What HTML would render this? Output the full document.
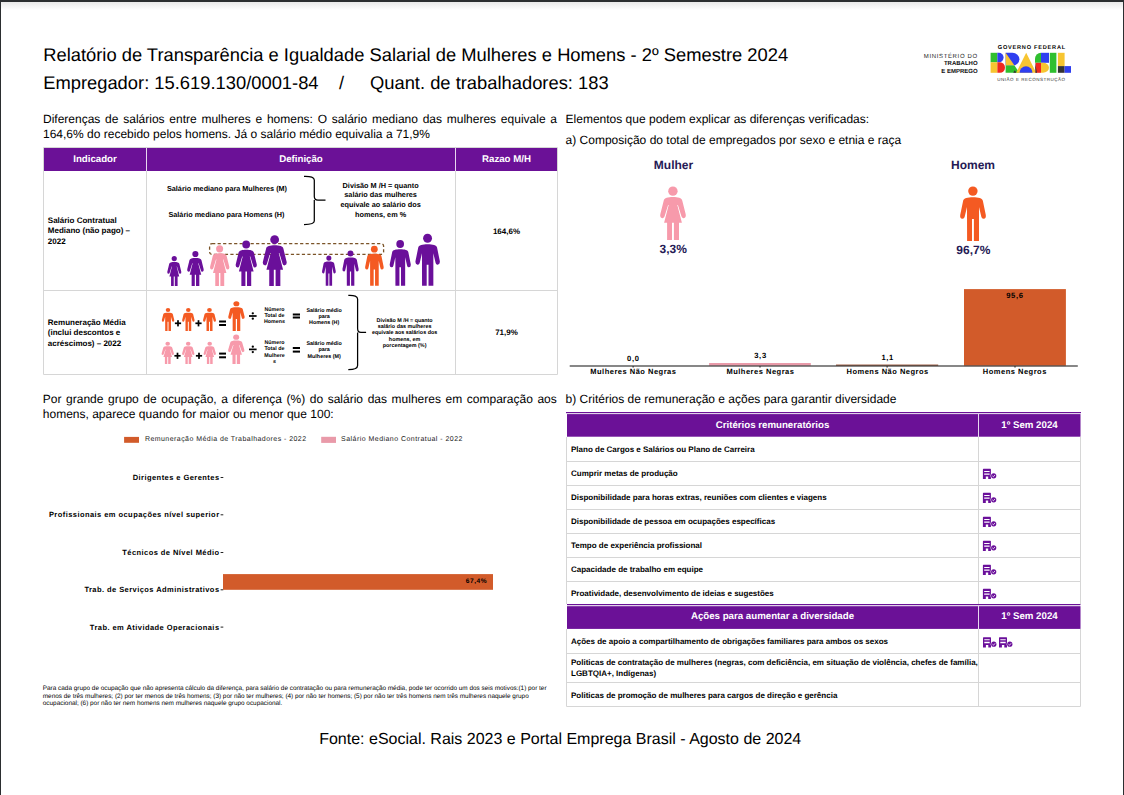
<!DOCTYPE html>
<html><head><meta charset="utf-8"><style>
html,body{margin:0;padding:0;}
body{width:1124px;height:795px;position:relative;overflow:hidden;background:#fff;font-family:"Liberation Sans", sans-serif;}
.t{position:absolute;white-space:nowrap;text-rendering:geometricPrecision;}
.j{text-align:justify;text-align-last:justify;}
#frame-top{position:absolute;left:0;top:0;width:1124px;height:2px;background:#2b2e30;}
#shadow{position:absolute;left:1px;top:2px;width:1122px;height:8px;background:linear-gradient(#e9e9e9,#fff);}
#frame-l{position:absolute;left:0;top:0;width:1px;height:795px;background:#2b2e30;}
#frame-r{position:absolute;left:1123px;top:0;width:1px;height:795px;background:#2b2e30;}
svg{position:absolute;left:0;top:0;}
</style></head><body>
<div id="shadow"></div>
<svg width="1124" height="795" viewBox="0 0 1124 795">
<rect x="44" y="148" width="513.5" height="23" fill="#6b1197"/>
<line x1="43.5" y1="147.5" x2="557.5" y2="147.5" stroke="#d6d6d6" stroke-width="1"/>
<line x1="43.5" y1="290.5" x2="557.5" y2="290.5" stroke="#d6d6d6" stroke-width="1"/>
<line x1="43.5" y1="374.5" x2="557.5" y2="374.5" stroke="#d6d6d6" stroke-width="1"/>
<line x1="43.5" y1="147.5" x2="43.5" y2="374.5" stroke="#d6d6d6" stroke-width="1"/>
<line x1="557.5" y1="147.5" x2="557.5" y2="374.5" stroke="#d6d6d6" stroke-width="1"/>
<line x1="146.5" y1="171" x2="146.5" y2="374.5" stroke="#d6d6d6" stroke-width="1"/>
<line x1="455.5" y1="171" x2="455.5" y2="374.5" stroke="#d6d6d6" stroke-width="1"/>
<line x1="146.5" y1="148" x2="146.5" y2="171" stroke="#e8d8f0" stroke-width="1"/>
<line x1="455.5" y1="148" x2="455.5" y2="171" stroke="#e8d8f0" stroke-width="1"/>
<path d="M304,176.3 Q314.3,176 314.3,180 L314.3,196.5 Q314.3,200.1 318,200.1 L325.5,200.1 M314.3,200.1 Q314.3,200.1 314.3,204 L314.3,221 Q314.3,224.5 304,224.5" fill="none" stroke="#000" stroke-width="1.25"/>
<path d="M348.3,295.4 Q357.6,295 357.6,299 L357.6,328.5 Q357.6,332.4 361,332.4 L366.1,332.4 M357.6,332.4 L357.6,365.5 Q357.6,369.7 348.3,369.7" fill="none" stroke="#000" stroke-width="1.25"/>
<rect x="209.6" y="243.6" width="174" height="10.8" rx="2.5" fill="none" stroke="#7b5428" stroke-width="1.3" stroke-dasharray="3.2,2.3"/>
<g transform="translate(167.20,255.90) scale(0.5504,0.5658)" fill="#6a0f9a"><circle cx="12.8" cy="4.7" r="4.7"/><path d="M3.6,14.3 C4,11.5 8,10.6 12.9,10.6 C17.8,10.6 21.8,11.5 22.2,14.3 L25.6,27.8 Q26.2,31.2 23.6,31.6 Q21.8,31.8 21.3,29.8 L17.8,18.6 L17.2,18.6 L21.8,36.2 L18.9,36.2 L18.9,53.2 L13.8,53.2 L13.8,36.2 L11.9,36.2 L11.9,53.2 L7,53.2 L7,36.2 L4,36.2 L8.6,18.6 L8,18.6 L4.5,29.8 Q4,31.8 2.2,31.6 Q-0.4,31.2 0.2,27.8 Z"/></g>
<g transform="translate(187.10,250.90) scale(0.6473,0.6598)" fill="#6a0f9a"><circle cx="12.8" cy="4.7" r="4.7"/><path d="M3.6,14.3 C4,11.5 8,10.6 12.9,10.6 C17.8,10.6 21.8,11.5 22.2,14.3 L25.6,27.8 Q26.2,31.2 23.6,31.6 Q21.8,31.8 21.3,29.8 L17.8,18.6 L17.2,18.6 L21.8,36.2 L18.9,36.2 L18.9,53.2 L13.8,53.2 L13.8,36.2 L11.9,36.2 L11.9,53.2 L7,53.2 L7,36.2 L4,36.2 L8.6,18.6 L8,18.6 L4.5,29.8 Q4,31.8 2.2,31.6 Q-0.4,31.2 0.2,27.8 Z"/></g>
<g transform="translate(210.00,245.20) scale(0.7519,0.7669)" fill="#f79aab"><circle cx="12.8" cy="4.7" r="4.7"/><path d="M3.6,14.3 C4,11.5 8,10.6 12.9,10.6 C17.8,10.6 21.8,11.5 22.2,14.3 L25.6,27.8 Q26.2,31.2 23.6,31.6 Q21.8,31.8 21.3,29.8 L17.8,18.6 L17.2,18.6 L21.8,36.2 L18.9,36.2 L18.9,53.2 L13.8,53.2 L13.8,36.2 L11.9,36.2 L11.9,53.2 L7,53.2 L7,36.2 L4,36.2 L8.6,18.6 L8,18.6 L4.5,29.8 Q4,31.8 2.2,31.6 Q-0.4,31.2 0.2,27.8 Z"/></g>
<g transform="translate(235.60,240.60) scale(0.8256,0.8534)" fill="#6a0f9a"><circle cx="12.8" cy="4.7" r="4.7"/><path d="M3.6,14.3 C4,11.5 8,10.6 12.9,10.6 C17.8,10.6 21.8,11.5 22.2,14.3 L25.6,27.8 Q26.2,31.2 23.6,31.6 Q21.8,31.8 21.3,29.8 L17.8,18.6 L17.2,18.6 L21.8,36.2 L18.9,36.2 L18.9,53.2 L13.8,53.2 L13.8,36.2 L11.9,36.2 L11.9,53.2 L7,53.2 L7,36.2 L4,36.2 L8.6,18.6 L8,18.6 L4.5,29.8 Q4,31.8 2.2,31.6 Q-0.4,31.2 0.2,27.8 Z"/></g>
<g transform="translate(262.70,235.20) scale(0.9341,0.9549)" fill="#6a0f9a"><circle cx="12.8" cy="4.7" r="4.7"/><path d="M3.6,14.3 C4,11.5 8,10.6 12.9,10.6 C17.8,10.6 21.8,11.5 22.2,14.3 L25.6,27.8 Q26.2,31.2 23.6,31.6 Q21.8,31.8 21.3,29.8 L17.8,18.6 L17.2,18.6 L21.8,36.2 L18.9,36.2 L18.9,53.2 L13.8,53.2 L13.8,36.2 L11.9,36.2 L11.9,53.2 L7,53.2 L7,36.2 L4,36.2 L8.6,18.6 L8,18.6 L4.5,29.8 Q4,31.8 2.2,31.6 Q-0.4,31.2 0.2,27.8 Z"/></g>
<g transform="translate(322.00,255.40) scale(0.5349,0.5580)" fill="#6a0f9a"><circle cx="12.8" cy="4.7" r="4.7"/><path d="M3,14.5 C3.4,11.8 7.5,10.9 12.9,10.9 C18.3,10.9 22.4,11.8 22.8,14.5 L25.7,28.5 Q26.2,32 23.6,32.3 Q21.8,32.5 21.3,30.5 L18.9,20.5 L18.9,54.3 L13.8,54.3 L13.8,32.4 L11.9,32.4 L11.9,54.3 L7,54.3 L6.9,20.5 L4.5,30.5 Q4,32.5 2.2,32.3 Q-0.4,32 0.1,28.5 Z"/></g>
<g transform="translate(342.40,250.40) scale(0.6318,0.6501)" fill="#6a0f9a"><circle cx="12.8" cy="4.7" r="4.7"/><path d="M3,14.5 C3.4,11.8 7.5,10.9 12.9,10.9 C18.3,10.9 22.4,11.8 22.8,14.5 L25.7,28.5 Q26.2,32 23.6,32.3 Q21.8,32.5 21.3,30.5 L18.9,20.5 L18.9,54.3 L13.8,54.3 L13.8,32.4 L11.9,32.4 L11.9,54.3 L7,54.3 L6.9,20.5 L4.5,30.5 Q4,32.5 2.2,32.3 Q-0.4,32 0.1,28.5 Z"/></g>
<g transform="translate(365.10,245.70) scale(0.7209,0.7366)" fill="#f45a22"><circle cx="12.8" cy="4.7" r="4.7"/><path d="M3,14.5 C3.4,11.8 7.5,10.9 12.9,10.9 C18.3,10.9 22.4,11.8 22.8,14.5 L25.7,28.5 Q26.2,32 23.6,32.3 Q21.8,32.5 21.3,30.5 L18.9,20.5 L18.9,54.3 L13.8,54.3 L13.8,32.4 L11.9,32.4 L11.9,54.3 L7,54.3 L6.9,20.5 L4.5,30.5 Q4,32.5 2.2,32.3 Q-0.4,32 0.1,28.5 Z"/></g>
<g transform="translate(389.70,240.10) scale(0.8178,0.8398)" fill="#6a0f9a"><circle cx="12.8" cy="4.7" r="4.7"/><path d="M3,14.5 C3.4,11.8 7.5,10.9 12.9,10.9 C18.3,10.9 22.4,11.8 22.8,14.5 L25.7,28.5 Q26.2,32 23.6,32.3 Q21.8,32.5 21.3,30.5 L18.9,20.5 L18.9,54.3 L13.8,54.3 L13.8,32.4 L11.9,32.4 L11.9,54.3 L7,54.3 L6.9,20.5 L4.5,30.5 Q4,32.5 2.2,32.3 Q-0.4,32 0.1,28.5 Z"/></g>
<g transform="translate(415.40,233.70) scale(0.9496,0.9576)" fill="#6a0f9a"><circle cx="12.8" cy="4.7" r="4.7"/><path d="M3,14.5 C3.4,11.8 7.5,10.9 12.9,10.9 C18.3,10.9 22.4,11.8 22.8,14.5 L25.7,28.5 Q26.2,32 23.6,32.3 Q21.8,32.5 21.3,30.5 L18.9,20.5 L18.9,54.3 L13.8,54.3 L13.8,32.4 L11.9,32.4 L11.9,54.3 L7,54.3 L6.9,20.5 L4.5,30.5 Q4,32.5 2.2,32.3 Q-0.4,32 0.1,28.5 Z"/></g>
<g transform="translate(161.80,308.10) scale(0.4845,0.4199)" fill="#f45a22"><circle cx="12.8" cy="4.7" r="4.7"/><path d="M3,14.5 C3.4,11.8 7.5,10.9 12.9,10.9 C18.3,10.9 22.4,11.8 22.8,14.5 L25.7,28.5 Q26.2,32 23.6,32.3 Q21.8,32.5 21.3,30.5 L18.9,20.5 L18.9,54.3 L13.8,54.3 L13.8,32.4 L11.9,32.4 L11.9,54.3 L7,54.3 L6.9,20.5 L4.5,30.5 Q4,32.5 2.2,32.3 Q-0.4,32 0.1,28.5 Z"/></g>
<g transform="translate(182.10,308.10) scale(0.4845,0.4199)" fill="#f45a22"><circle cx="12.8" cy="4.7" r="4.7"/><path d="M3,14.5 C3.4,11.8 7.5,10.9 12.9,10.9 C18.3,10.9 22.4,11.8 22.8,14.5 L25.7,28.5 Q26.2,32 23.6,32.3 Q21.8,32.5 21.3,30.5 L18.9,20.5 L18.9,54.3 L13.8,54.3 L13.8,32.4 L11.9,32.4 L11.9,54.3 L7,54.3 L6.9,20.5 L4.5,30.5 Q4,32.5 2.2,32.3 Q-0.4,32 0.1,28.5 Z"/></g>
<g transform="translate(203.00,308.10) scale(0.5039,0.4199)" fill="#f45a22"><circle cx="12.8" cy="4.7" r="4.7"/><path d="M3,14.5 C3.4,11.8 7.5,10.9 12.9,10.9 C18.3,10.9 22.4,11.8 22.8,14.5 L25.7,28.5 Q26.2,32 23.6,32.3 Q21.8,32.5 21.3,30.5 L18.9,20.5 L18.9,54.3 L13.8,54.3 L13.8,32.4 L11.9,32.4 L11.9,54.3 L7,54.3 L6.9,20.5 L4.5,30.5 Q4,32.5 2.2,32.3 Q-0.4,32 0.1,28.5 Z"/></g>
<g transform="translate(228.20,301.20) scale(0.6395,0.5470)" fill="#f45a22"><circle cx="12.8" cy="4.7" r="4.7"/><path d="M3,14.5 C3.4,11.8 7.5,10.9 12.9,10.9 C18.3,10.9 22.4,11.8 22.8,14.5 L25.7,28.5 Q26.2,32 23.6,32.3 Q21.8,32.5 21.3,30.5 L18.9,20.5 L18.9,54.3 L13.8,54.3 L13.8,32.4 L11.9,32.4 L11.9,54.3 L7,54.3 L6.9,20.5 L4.5,30.5 Q4,32.5 2.2,32.3 Q-0.4,32 0.1,28.5 Z"/></g>
<g transform="translate(161.50,341.70) scale(0.4845,0.4211)" fill="#f79aab"><circle cx="12.8" cy="4.7" r="4.7"/><path d="M3.6,14.3 C4,11.5 8,10.6 12.9,10.6 C17.8,10.6 21.8,11.5 22.2,14.3 L25.6,27.8 Q26.2,31.2 23.6,31.6 Q21.8,31.8 21.3,29.8 L17.8,18.6 L17.2,18.6 L21.8,36.2 L18.9,36.2 L18.9,53.2 L13.8,53.2 L13.8,36.2 L11.9,36.2 L11.9,53.2 L7,53.2 L7,36.2 L4,36.2 L8.6,18.6 L8,18.6 L4.5,29.8 Q4,31.8 2.2,31.6 Q-0.4,31.2 0.2,27.8 Z"/></g>
<g transform="translate(182.00,341.70) scale(0.4845,0.4211)" fill="#f79aab"><circle cx="12.8" cy="4.7" r="4.7"/><path d="M3.6,14.3 C4,11.5 8,10.6 12.9,10.6 C17.8,10.6 21.8,11.5 22.2,14.3 L25.6,27.8 Q26.2,31.2 23.6,31.6 Q21.8,31.8 21.3,29.8 L17.8,18.6 L17.2,18.6 L21.8,36.2 L18.9,36.2 L18.9,53.2 L13.8,53.2 L13.8,36.2 L11.9,36.2 L11.9,53.2 L7,53.2 L7,36.2 L4,36.2 L8.6,18.6 L8,18.6 L4.5,29.8 Q4,31.8 2.2,31.6 Q-0.4,31.2 0.2,27.8 Z"/></g>
<g transform="translate(203.50,341.70) scale(0.4845,0.4211)" fill="#f79aab"><circle cx="12.8" cy="4.7" r="4.7"/><path d="M3.6,14.3 C4,11.5 8,10.6 12.9,10.6 C17.8,10.6 21.8,11.5 22.2,14.3 L25.6,27.8 Q26.2,31.2 23.6,31.6 Q21.8,31.8 21.3,29.8 L17.8,18.6 L17.2,18.6 L21.8,36.2 L18.9,36.2 L18.9,53.2 L13.8,53.2 L13.8,36.2 L11.9,36.2 L11.9,53.2 L7,53.2 L7,36.2 L4,36.2 L8.6,18.6 L8,18.6 L4.5,29.8 Q4,31.8 2.2,31.6 Q-0.4,31.2 0.2,27.8 Z"/></g>
<g transform="translate(228.00,334.60) scale(0.6395,0.5545)" fill="#f79aab"><circle cx="12.8" cy="4.7" r="4.7"/><path d="M3.6,14.3 C4,11.5 8,10.6 12.9,10.6 C17.8,10.6 21.8,11.5 22.2,14.3 L25.6,27.8 Q26.2,31.2 23.6,31.6 Q21.8,31.8 21.3,29.8 L17.8,18.6 L17.2,18.6 L21.8,36.2 L18.9,36.2 L18.9,53.2 L13.8,53.2 L13.8,36.2 L11.9,36.2 L11.9,53.2 L7,53.2 L7,36.2 L4,36.2 L8.6,18.6 L8,18.6 L4.5,29.8 Q4,31.8 2.2,31.6 Q-0.4,31.2 0.2,27.8 Z"/></g>
<rect x="174.90" y="322.45" width="6.2" height="1.7" fill="#000"/><rect x="177.15" y="320.20" width="1.7" height="6.2" fill="#000"/>
<rect x="195.40" y="322.45" width="6.2" height="1.7" fill="#000"/><rect x="197.65" y="320.20" width="1.7" height="6.2" fill="#000"/>
<rect x="219.1" y="320.5" width="6.900000000000006" height="2" fill="#000"/><rect x="219.1" y="324" width="6.900000000000006" height="2" fill="#000"/>
<rect x="249.0" y="315.15" width="7.6" height="1.7" fill="#000"/><circle cx="252.8" cy="313.3" r="1.15" fill="#000"/><circle cx="252.8" cy="318.7" r="1.15" fill="#000"/>
<rect x="174.40" y="354.95" width="6.2" height="1.7" fill="#000"/><rect x="176.65" y="352.70" width="1.7" height="6.2" fill="#000"/>
<rect x="195.90" y="354.95" width="6.2" height="1.7" fill="#000"/><rect x="198.15" y="352.70" width="1.7" height="6.2" fill="#000"/>
<rect x="219.1" y="352.6" width="6.900000000000006" height="2" fill="#000"/><rect x="219.1" y="356.3" width="6.900000000000006" height="2" fill="#000"/>
<rect x="249.0" y="348.54999999999995" width="7.6" height="1.7" fill="#000"/><circle cx="252.8" cy="346.7" r="1.15" fill="#000"/><circle cx="252.8" cy="352.09999999999997" r="1.15" fill="#000"/>
<rect x="292.8" y="313.5" width="7.199999999999989" height="2" fill="#000"/><rect x="292.8" y="316.5" width="7.199999999999989" height="2" fill="#000"/>
<rect x="292.8" y="347" width="7.199999999999989" height="2" fill="#000"/><rect x="292.8" y="350.6" width="7.199999999999989" height="2" fill="#000"/>
<g transform="translate(660.10,186.40) scale(1.0000,1.0056)" fill="#f79aab"><circle cx="12.8" cy="4.7" r="4.7"/><path d="M3.6,14.3 C4,11.5 8,10.6 12.9,10.6 C17.8,10.6 21.8,11.5 22.2,14.3 L25.6,27.8 Q26.2,31.2 23.6,31.6 Q21.8,31.8 21.3,29.8 L17.8,18.6 L17.2,18.6 L21.8,36.2 L18.9,36.2 L18.9,53.2 L13.8,53.2 L13.8,36.2 L11.9,36.2 L11.9,53.2 L7,53.2 L7,36.2 L4,36.2 L8.6,18.6 L8,18.6 L4.5,29.8 Q4,31.8 2.2,31.6 Q-0.4,31.2 0.2,27.8 Z"/></g>
<g transform="translate(960.10,186.40) scale(1.0000,1.0037)" fill="#f45a22"><circle cx="12.8" cy="4.7" r="4.7"/><path d="M3,14.5 C3.4,11.8 7.5,10.9 12.9,10.9 C18.3,10.9 22.4,11.8 22.8,14.5 L25.7,28.5 Q26.2,32 23.6,32.3 Q21.8,32.5 21.3,30.5 L18.9,20.5 L18.9,54.3 L13.8,54.3 L13.8,32.4 L11.9,32.4 L11.9,54.3 L7,54.3 L6.9,20.5 L4.5,30.5 Q4,32.5 2.2,32.3 Q-0.4,32 0.1,28.5 Z"/></g>
<rect x="709.1" y="363" width="101.7" height="3" fill="#e99aa9"/>
<rect x="836" y="364.6" width="102.2" height="1.4" fill="#8a3a1a"/>
<rect x="964" y="289.1" width="101.9" height="77" fill="#d25b2a"/>
<rect x="569.7" y="365.3" width="508.1" height="1.4" fill="#555"/>
<rect x="632.6" y="366" width="1" height="1.6" fill="#222"/>
<rect x="759.5" y="366" width="1" height="1.6" fill="#222"/>
<rect x="886.6" y="366" width="1" height="1.6" fill="#222"/>
<rect x="1014.5" y="366" width="1" height="1.6" fill="#222"/>
<rect x="124.1" y="436.9" width="14.9" height="5.9" fill="#d25b2a"/>
<rect x="321.2" y="436.8" width="14.8" height="6.1" fill="#e99aa9"/>
<rect x="220.6" y="477.0" width="2.7" height="1" fill="#222"/>
<rect x="220.6" y="514.3" width="2.7" height="1" fill="#222"/>
<rect x="220.6" y="552.0" width="2.7" height="1" fill="#222"/>
<rect x="220.6" y="589.3" width="2.7" height="1" fill="#222"/>
<rect x="220.6" y="626.6" width="2.7" height="1" fill="#222"/>
<rect x="223" y="574.1" width="270" height="15.7" fill="#d25b2a"/>
<rect x="566" y="412" width="515" height="1.2" fill="#6b1197"/>
<rect x="567" y="414.1" width="513.5" height="22.6" fill="#6b1197"/>
<rect x="567" y="604" width="513.5" height="1.2" fill="#6b1197"/>
<rect x="567" y="606.2" width="513.5" height="22.7" fill="#6b1197"/>
<line x1="978.5" y1="414" x2="978.5" y2="437" stroke="#e8d8f0"/>
<line x1="978.5" y1="606" x2="978.5" y2="629" stroke="#e8d8f0"/>
<line x1="566.5" y1="461.5" x2="1080.5" y2="461.5" stroke="#d6d6d6"/>
<line x1="566.5" y1="485.5" x2="1080.5" y2="485.5" stroke="#d6d6d6"/>
<line x1="566.5" y1="509.5" x2="1080.5" y2="509.5" stroke="#d6d6d6"/>
<line x1="566.5" y1="533.5" x2="1080.5" y2="533.5" stroke="#d6d6d6"/>
<line x1="566.5" y1="557.5" x2="1080.5" y2="557.5" stroke="#d6d6d6"/>
<line x1="566.5" y1="581.5" x2="1080.5" y2="581.5" stroke="#d6d6d6"/>
<line x1="566.5" y1="653.5" x2="1080.5" y2="653.5" stroke="#d6d6d6"/>
<line x1="566.5" y1="682.5" x2="1080.5" y2="682.5" stroke="#d6d6d6"/>
<line x1="566.5" y1="706.5" x2="1080.5" y2="706.5" stroke="#d6d6d6"/>
<line x1="566.5" y1="437" x2="566.5" y2="604" stroke="#d6d6d6"/>
<line x1="566.5" y1="629" x2="566.5" y2="706.5" stroke="#d6d6d6"/>
<line x1="978.5" y1="437" x2="978.5" y2="604" stroke="#d6d6d6"/>
<line x1="978.5" y1="629" x2="978.5" y2="706.5" stroke="#d6d6d6"/>
<line x1="1080.5" y1="437" x2="1080.5" y2="604" stroke="#d6d6d6"/>
<line x1="1080.5" y1="629" x2="1080.5" y2="706.5" stroke="#d6d6d6"/>
<g transform="translate(982.9,468.8)" fill="#6a0f9a"><path d="M0.6,0 H7.4 Q8,0 8,0.6 V10.3 H5.3 V7.8 H2.9 V10.3 H0 V0.6 Q0,0 0.6,0 Z M1.3,2.1 V3.1 H6.7 V2.1 Z M1.3,4.6 V6 H6.7 V4.6 Z"/><circle cx="10.8" cy="7" r="3.1" fill="#fff"/><circle cx="10.8" cy="7" r="2.6"/><path d="M9.5,7.1 L10.5,8 L12.1,6.1" stroke="#fff" stroke-width="0.8" fill="none"/></g>
<g transform="translate(982.9,492.8)" fill="#6a0f9a"><path d="M0.6,0 H7.4 Q8,0 8,0.6 V10.3 H5.3 V7.8 H2.9 V10.3 H0 V0.6 Q0,0 0.6,0 Z M1.3,2.1 V3.1 H6.7 V2.1 Z M1.3,4.6 V6 H6.7 V4.6 Z"/><circle cx="10.8" cy="7" r="3.1" fill="#fff"/><circle cx="10.8" cy="7" r="2.6"/><path d="M9.5,7.1 L10.5,8 L12.1,6.1" stroke="#fff" stroke-width="0.8" fill="none"/></g>
<g transform="translate(982.9,516.8)" fill="#6a0f9a"><path d="M0.6,0 H7.4 Q8,0 8,0.6 V10.3 H5.3 V7.8 H2.9 V10.3 H0 V0.6 Q0,0 0.6,0 Z M1.3,2.1 V3.1 H6.7 V2.1 Z M1.3,4.6 V6 H6.7 V4.6 Z"/><circle cx="10.8" cy="7" r="3.1" fill="#fff"/><circle cx="10.8" cy="7" r="2.6"/><path d="M9.5,7.1 L10.5,8 L12.1,6.1" stroke="#fff" stroke-width="0.8" fill="none"/></g>
<g transform="translate(982.9,540.8)" fill="#6a0f9a"><path d="M0.6,0 H7.4 Q8,0 8,0.6 V10.3 H5.3 V7.8 H2.9 V10.3 H0 V0.6 Q0,0 0.6,0 Z M1.3,2.1 V3.1 H6.7 V2.1 Z M1.3,4.6 V6 H6.7 V4.6 Z"/><circle cx="10.8" cy="7" r="3.1" fill="#fff"/><circle cx="10.8" cy="7" r="2.6"/><path d="M9.5,7.1 L10.5,8 L12.1,6.1" stroke="#fff" stroke-width="0.8" fill="none"/></g>
<g transform="translate(982.9,564.8)" fill="#6a0f9a"><path d="M0.6,0 H7.4 Q8,0 8,0.6 V10.3 H5.3 V7.8 H2.9 V10.3 H0 V0.6 Q0,0 0.6,0 Z M1.3,2.1 V3.1 H6.7 V2.1 Z M1.3,4.6 V6 H6.7 V4.6 Z"/><circle cx="10.8" cy="7" r="3.1" fill="#fff"/><circle cx="10.8" cy="7" r="2.6"/><path d="M9.5,7.1 L10.5,8 L12.1,6.1" stroke="#fff" stroke-width="0.8" fill="none"/></g>
<g transform="translate(982.9,588.8)" fill="#6a0f9a"><path d="M0.6,0 H7.4 Q8,0 8,0.6 V10.3 H5.3 V7.8 H2.9 V10.3 H0 V0.6 Q0,0 0.6,0 Z M1.3,2.1 V3.1 H6.7 V2.1 Z M1.3,4.6 V6 H6.7 V4.6 Z"/><circle cx="10.8" cy="7" r="3.1" fill="#fff"/><circle cx="10.8" cy="7" r="2.6"/><path d="M9.5,7.1 L10.5,8 L12.1,6.1" stroke="#fff" stroke-width="0.8" fill="none"/></g>
<g transform="translate(983,637.2)" fill="#6a0f9a"><path d="M0.6,0 H7.4 Q8,0 8,0.6 V10.3 H5.3 V7.8 H2.9 V10.3 H0 V0.6 Q0,0 0.6,0 Z M1.3,2.1 V3.1 H6.7 V2.1 Z M1.3,4.6 V6 H6.7 V4.6 Z"/><circle cx="10.8" cy="7" r="3.1" fill="#fff"/><circle cx="10.8" cy="7" r="2.6"/><path d="M9.5,7.1 L10.5,8 L12.1,6.1" stroke="#fff" stroke-width="0.8" fill="none"/></g>
<g transform="translate(999,637.2)" fill="#6a0f9a"><path d="M0.6,0 H7.4 Q8,0 8,0.6 V10.3 H5.3 V7.8 H2.9 V10.3 H0 V0.6 Q0,0 0.6,0 Z M1.3,2.1 V3.1 H6.7 V2.1 Z M1.3,4.6 V6 H6.7 V4.6 Z"/><circle cx="10.8" cy="7" r="3.1" fill="#fff"/><circle cx="10.8" cy="7" r="2.6"/><path d="M9.5,7.1 L10.5,8 L12.1,6.1" stroke="#fff" stroke-width="0.8" fill="none"/></g>
<rect x="990.6" y="52.8" width="6.8" height="9.5" fill="#2fbf2f"/>
<rect x="990.6" y="62.3" width="6.8" height="10.5" fill="#f7c531"/>
<path d="M997.4,52.8 H999 A4.6,4.75 0 0 1 999,62.3 H997.4 Z" fill="#2f3ff0"/>
<path d="M997.4,62.3 H1000 A5,5.25 0 0 1 1000,72.8 H997.4 Z" fill="#f0281e"/>
<path d="M1005.6,52.8 H1012.5 A6.9,6.4 0 0 1 1012.5,65.6 H1005.6 Z" fill="#2f3ff0"/>
<path d="M1005.6,52.8 L1014.5,65.6 L1005.6,65.6 Z" fill="#f7c531"/>
<path d="M1005.6,65.6 H1014.5 L1019.4,72.8 H1005.6 Z" fill="#2fbf2f"/>
<path d="M1014.8,70.2 L1016.5,72.8 H1013.2 Z" fill="#333"/>
<path d="M1026.2,52.8 L1036.2,72.8 H1016.2 Z" fill="#f7c531"/>
<path d="M1019.5,72.8 A6.5,6.5 0 0 1 1032.5,72.8 Z" fill="#2f3ff0"/>
<path d="M1041,52.8 V62.8 H1035 V58.8 A6,6 0 0 1 1041,52.8 Z" fill="#2fbf2f"/>
<rect x="1041" y="52.8" width="8" height="10" fill="#2f3ff0"/>
<rect x="1035.5" y="62.8" width="5.5" height="10" fill="#f0281e"/>
<path d="M1041,62.8 H1043 A6,5 0 0 1 1043,72.8 H1041 Z" fill="#f7c531"/>
<path d="M1035,62.8 L1037,72.8 L1035.5,72.8 Z" fill="#333"/>
<rect x="1049.8" y="52.8" width="6.6" height="20" fill="#2fbf2f"/>
<rect x="1057.9" y="52.8" width="6.7" height="13.3" fill="#f7c531"/>
<rect x="1057.9" y="66.1" width="6.7" height="6.7" fill="#333"/>
<rect x="1064.6" y="66.1" width="6.4" height="6.7" fill="#2f3ff0"/>
</svg>
<div class="t" style="left:43.20px;top:43.63px;font-size:18.35px;line-height:22.02px;font-weight:normal;color:#000;">Relatório de Transparência e Igualdade Salarial de Mulheres e Homens - 2º Semestre 2024</div>
<div class="t" style="left:43.20px;top:71.93px;font-size:18.35px;line-height:22.02px;font-weight:normal;color:#000;">Empregador: 15.619.130/0001-84</div>
<div class="t" style="left:339.00px;top:71.93px;font-size:18.35px;line-height:22.02px;font-weight:normal;color:#000;">/</div>
<div class="t" style="left:370.00px;top:71.93px;font-size:18.35px;line-height:22.02px;font-weight:normal;color:#000;">Quant. de trabalhadores: 183</div>
<div class="t j" style="left:43px;top:112.44px;width:514px;font-size:12px;line-height:14.399999999999999px;color:#000">Diferenças de salários entre mulheres e homens: O salário mediano das mulheres equivale a</div>
<div class="t" style="left:43.00px;top:126.94px;font-size:12px;line-height:14.399999999999999px;font-weight:normal;color:#000;">164,6% do recebido pelos homens. Já o salário médio equivalia a 71,9%</div>
<div class="t" style="left:-205.00px;top:153.82px;font-size:9.7px;line-height:11.639999999999999px;font-weight:bold;color:#fff;width:600px;text-align:center;">Indicador</div>
<div class="t" style="left:1.00px;top:153.82px;font-size:9.7px;line-height:11.639999999999999px;font-weight:bold;color:#fff;width:600px;text-align:center;">Definição</div>
<div class="t" style="left:206.50px;top:153.82px;font-size:9.7px;line-height:11.639999999999999px;font-weight:bold;color:#fff;width:600px;text-align:center;">Razao M/H</div>
<div class="t" style="left:47.80px;top:215.93px;font-size:8px;line-height:10.4px;font-weight:bold;color:#000;">Salário Contratual<br>Mediano (não pago) –<br>2022</div>
<div class="t" style="left:47.80px;top:317.53px;font-size:8px;line-height:10.6px;font-weight:bold;color:#000;">Remuneração Média<br>(inclui descontos e<br>acréscimos) – 2022</div>
<div class="t" style="left:206.50px;top:227.13px;font-size:8px;line-height:9.6px;font-weight:bold;color:#000;width:600px;text-align:center;">164,6%</div>
<div class="t" style="left:206.50px;top:327.93px;font-size:8px;line-height:9.6px;font-weight:bold;color:#000;width:600px;text-align:center;">71,9%</div>
<div class="t" style="left:-73.00px;top:185.34px;font-size:7.25px;line-height:8.7px;font-weight:bold;color:#000;width:600px;text-align:center;">Salário mediano para Mulheres (M)</div>
<div class="t" style="left:-73.50px;top:211.34px;font-size:7.25px;line-height:8.7px;font-weight:bold;color:#000;width:600px;text-align:center;">Salário mediano para Homens (H)</div>
<div class="t" style="left:80.60px;top:180.60px;font-size:7.3px;line-height:9.75px;font-weight:bold;color:#000;width:600px;text-align:center;">Divisão M /H = quanto<br>salário das mulheres<br>equivale ao salário dos<br>homens, em %</div>
<div class="t" style="left:24.20px;top:308.08px;font-size:5.4px;line-height:6.1px;font-weight:bold;color:#000;width:600px;text-align:center;">Salário médio<br>para<br>Homens (H)</div>
<div class="t" style="left:24.20px;top:340.63px;font-size:5.4px;line-height:6.6px;font-weight:bold;color:#000;width:600px;text-align:center;">Salário médio<br>para<br>Mulheres (M)</div>
<div class="t" style="left:104.60px;top:317.90px;font-size:5.4px;line-height:6.25px;font-weight:bold;color:#000;width:600px;text-align:center;">Divisão M /H = quanto<br>salário das mulheres<br>equivale aos salários dos<br>homens, em<br>porcentagem (%)</div>
<div class="t" style="left:-25.50px;top:307.89px;font-size:5.3px;line-height:5.95px;font-weight:bold;color:#000;width:600px;text-align:center;">Número<br>Total de<br>Homens</div>
<div class="t" style="left:-25.50px;top:339.89px;font-size:5.3px;line-height:6.35px;font-weight:bold;color:#000;width:600px;text-align:center;">Número<br>Total de<br>Mulhere<br>s</div>
<div class="t" style="left:565.60px;top:112.44px;font-size:12px;line-height:14.399999999999999px;font-weight:normal;color:#000;">Elementos que podem explicar as diferenças verificadas:</div>
<div class="t" style="left:565.60px;top:133.24px;font-size:12px;line-height:14.399999999999999px;font-weight:normal;color:#000;">a) Composição do total de empregados por sexo e etnia e raça</div>
<div class="t" style="left:373.50px;top:158.14px;font-size:12px;line-height:14.399999999999999px;font-weight:bold;color:#251a55;width:600px;text-align:center;">Mulher</div>
<div class="t" style="left:673.00px;top:158.14px;font-size:12px;line-height:14.399999999999999px;font-weight:bold;color:#251a55;width:600px;text-align:center;">Homem</div>
<div class="t" style="left:373.30px;top:241.84px;font-size:12px;line-height:14.399999999999999px;font-weight:bold;color:#251a55;width:600px;text-align:center;">3,3%</div>
<div class="t" style="left:673.30px;top:242.84px;font-size:12px;line-height:14.399999999999999px;font-weight:bold;color:#251a55;width:600px;text-align:center;">96,7%</div>
<div class="t" style="left:333.10px;top:353.91px;font-size:7.6px;line-height:9.12px;font-weight:bold;color:#000;width:600px;text-align:center;letter-spacing:0.7px;text-indent:0.7px;">0,0</div>
<div class="t" style="left:460.20px;top:351.21px;font-size:7.6px;line-height:9.12px;font-weight:bold;color:#000;width:600px;text-align:center;letter-spacing:0.7px;text-indent:0.7px;">3,3</div>
<div class="t" style="left:587.40px;top:352.81px;font-size:7.6px;line-height:9.12px;font-weight:bold;color:#000;width:600px;text-align:center;letter-spacing:0.7px;text-indent:0.7px;">1,1</div>
<div class="t" style="left:714.60px;top:291.11px;font-size:7.6px;line-height:9.12px;font-weight:bold;color:#000;width:600px;text-align:center;letter-spacing:0.7px;text-indent:0.7px;">95,6</div>
<div class="t" style="left:333.10px;top:367.30px;font-size:7.5px;line-height:9.0px;font-weight:bold;color:#000;width:600px;text-align:center;letter-spacing:0.5px;text-indent:0.5px;">Mulheres Não Negras</div>
<div class="t" style="left:460.20px;top:367.10px;font-size:7.5px;line-height:9.0px;font-weight:bold;color:#000;width:600px;text-align:center;letter-spacing:0.5px;text-indent:0.5px;">Mulheres Negras</div>
<div class="t" style="left:587.40px;top:367.10px;font-size:7.5px;line-height:9.0px;font-weight:bold;color:#000;width:600px;text-align:center;letter-spacing:0.5px;text-indent:0.5px;">Homens Não Negros</div>
<div class="t" style="left:714.60px;top:367.10px;font-size:7.5px;line-height:9.0px;font-weight:bold;color:#000;width:600px;text-align:center;letter-spacing:0.5px;text-indent:0.5px;">Homens Negros</div>
<div class="t j" style="left:42.8px;top:392.04px;width:514px;font-size:12px;line-height:14.399999999999999px;color:#000">Por grande grupo de ocupação, a diferença (%) do salário das mulheres em comparação aos</div>
<div class="t" style="left:42.80px;top:406.94px;font-size:12px;line-height:14.399999999999999px;font-weight:normal;color:#000;">homens, aparece quando for maior ou menor que 100:</div>
<div class="t" style="left:144.90px;top:435.87px;font-size:7px;line-height:8.4px;font-weight:normal;color:#1a1a1a;letter-spacing:0.45px;">Remuneração Média de Trabalhadores - 2022</div>
<div class="t" style="left:341.10px;top:435.87px;font-size:7px;line-height:8.4px;font-weight:normal;color:#1a1a1a;letter-spacing:0.46px;">Salário Mediano Contratual - 2022</div>
<div class="t" style="left:-380.50px;top:473.00px;font-size:7.5px;line-height:9.0px;font-weight:bold;color:#000;width:600px;text-align:right;letter-spacing:0.44px;margin-right:-0.44px;">Dirigentes e Gerentes</div>
<div class="t" style="left:-380.50px;top:510.30px;font-size:7.5px;line-height:9.0px;font-weight:bold;color:#000;width:600px;text-align:right;letter-spacing:0.44px;margin-right:-0.44px;">Profissionais em ocupações nível superior</div>
<div class="t" style="left:-380.50px;top:548.00px;font-size:7.5px;line-height:9.0px;font-weight:bold;color:#000;width:600px;text-align:right;letter-spacing:0.44px;margin-right:-0.44px;">Técnicos de Nível Médio</div>
<div class="t" style="left:-380.50px;top:585.30px;font-size:7.5px;line-height:9.0px;font-weight:bold;color:#000;width:600px;text-align:right;letter-spacing:0.44px;margin-right:-0.44px;">Trab. de Serviços Administrativos</div>
<div class="t" style="left:-380.50px;top:622.60px;font-size:7.5px;line-height:9.0px;font-weight:bold;color:#000;width:600px;text-align:right;letter-spacing:0.44px;margin-right:-0.44px;">Trab. em Atividade Operacionais</div>
<div class="t" style="left:-112.80px;top:577.75px;font-size:6.6px;line-height:7.919999999999999px;font-weight:bold;color:#000;width:600px;text-align:right;letter-spacing:0.55px;margin-right:-0.55px;">67,4%</div>
<div class="t" style="left:42.80px;top:685.13px;font-size:6.4px;line-height:7.5px;font-weight:normal;color:#000;">Para cada grupo de ocupação que não apresenta cálculo da diferença, para salário de contratação ou para remuneração média, pode ter ocorrido um dos seis motivos:(1) por ter<br>menos de três mulheres; (2) por ter menos de três homens; (3) por não ter mulheres; (4) por não ter homens; (5) por não ter três homens nem três mulheres naquele grupo<br>ocupacional; (6) por não ter nem homens nem mulheres naquele grupo ocupacional.</div>
<div class="t" style="left:565.60px;top:392.04px;font-size:12px;line-height:14.399999999999999px;font-weight:normal;color:#000;">b) Critérios de remuneração e ações para garantir diversidade</div>
<div class="t" style="left:472.50px;top:419.72px;font-size:9.7px;line-height:11.639999999999999px;font-weight:bold;color:#fff;width:600px;text-align:center;">Critérios remuneratórios</div>
<div class="t" style="left:729.50px;top:419.72px;font-size:9.7px;line-height:11.639999999999999px;font-weight:bold;color:#fff;width:600px;text-align:center;">1º Sem 2024</div>
<div class="t" style="left:472.50px;top:611.12px;font-size:9.7px;line-height:11.639999999999999px;font-weight:bold;color:#fff;width:600px;text-align:center;">Ações para aumentar a diversidade</div>
<div class="t" style="left:729.50px;top:611.12px;font-size:9.7px;line-height:11.639999999999999px;font-weight:bold;color:#fff;width:600px;text-align:center;">1º Sem 2024</div>
<div class="t" style="left:571.00px;top:445.23px;font-size:8px;line-height:9.6px;font-weight:bold;color:#000;">Plano de Cargos e Salários ou Plano de Carreira</div>
<div class="t" style="left:571.00px;top:469.23px;font-size:8px;line-height:9.6px;font-weight:bold;color:#000;">Cumprir metas de produção</div>
<div class="t" style="left:571.00px;top:493.23px;font-size:8px;line-height:9.6px;font-weight:bold;color:#000;">Disponibilidade para horas extras, reuniões com clientes e viagens</div>
<div class="t" style="left:571.00px;top:517.23px;font-size:8px;line-height:9.6px;font-weight:bold;color:#000;">Disponibilidade de pessoa em ocupações específicas</div>
<div class="t" style="left:571.00px;top:541.23px;font-size:8px;line-height:9.6px;font-weight:bold;color:#000;">Tempo de experiência profissional</div>
<div class="t" style="left:571.00px;top:565.23px;font-size:8px;line-height:9.6px;font-weight:bold;color:#000;">Capacidade de trabalho em equipe</div>
<div class="t" style="left:571.00px;top:589.23px;font-size:8px;line-height:9.6px;font-weight:bold;color:#000;">Proatividade, desenvolvimento de ideias e sugestões</div>
<div class="t" style="left:571.00px;top:637.03px;font-size:8px;line-height:9.6px;font-weight:bold;color:#000;">Ações de apoio a compartilhamento de obrigações familiares para ambos os sexos</div>
<div class="t" style="left:571.00px;top:658.38px;font-size:8px;line-height:10.3px;font-weight:bold;color:#000;">Politicas de contratação de mulheres (negras, com deficiência, em situação de violência, chefes de família,<br>LGBTQIA+, Indígenas)</div>
<div class="t" style="left:571.00px;top:690.93px;font-size:8px;line-height:9.6px;font-weight:bold;color:#000;">Politicas de promoção de mulheres para cargos de direção e gerência</div>
<div class="t" style="left:319.20px;top:729.66px;font-size:16px;line-height:19.2px;font-weight:normal;color:#000;">Fonte: eSocial. Rais 2023 e Portal Emprega Brasil - Agosto de 2024</div>
<div class="t" style="left:377.80px;top:53.62px;font-size:6px;line-height:7.199999999999999px;font-weight:normal;color:#222;width:600px;text-align:right;letter-spacing:0.64px;margin-right:-0.64px;">MINISTÉRIO DO</div>
<div class="t" style="left:377.60px;top:61.32px;font-size:6px;line-height:7.199999999999999px;font-weight:bold;color:#111;width:600px;text-align:right;">TRABALHO</div>
<div class="t" style="left:377.60px;top:69.12px;font-size:6px;line-height:7.199999999999999px;font-weight:bold;color:#111;width:600px;text-align:right;">E EMPREGO</div>
<div class="t" style="left:731.50px;top:45.10px;font-size:5.6px;line-height:6.72px;font-weight:bold;color:#000;width:600px;text-align:center;letter-spacing:0.77px;text-indent:0.77px;">GOVERNO FEDERAL</div>
<div class="t" style="left:731.20px;top:76.94px;font-size:4.5px;line-height:5.3999999999999995px;font-weight:normal;color:#333;width:600px;text-align:center;letter-spacing:0.51px;text-indent:0.51px;">UNIÃO E RECONSTRUÇÃO</div>
<div id="frame-top"></div><div id="frame-l"></div><div id="frame-r"></div>
</body></html>
